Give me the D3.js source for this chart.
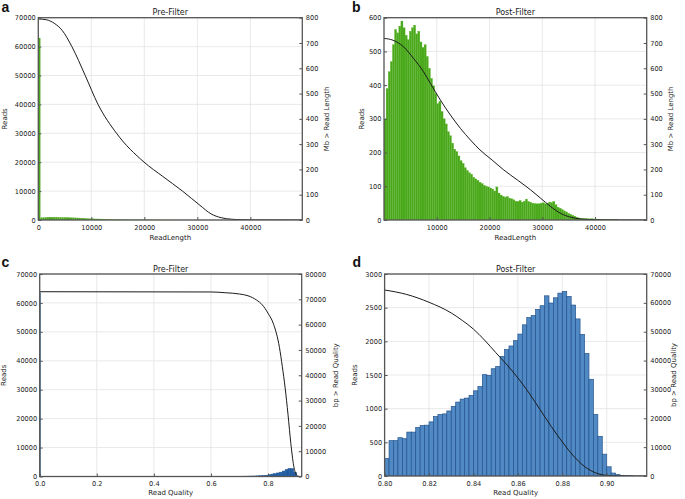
<!DOCTYPE html>
<html><head><meta charset="utf-8">
<script src="https://cdn.jsdelivr.net/npm/d3@7"></script>
<style>
body{margin:0;background:#fff;}
svg{display:block;}
.tick text{font-family:"DejaVu Sans",sans-serif;font-size:6.6px;fill:#222;}
.lbl{font-family:"DejaVu Sans",sans-serif;font-size:7px;fill:#222;}
.ttl{font-family:"DejaVu Sans",sans-serif;font-size:8px;fill:#222;}
.let{font-family:"Liberation Sans",Arial,sans-serif;font-size:14px;font-weight:bold;fill:#111;}
</style></head><body>
<svg id="chart" width="685" height="499"></svg>
<script>
// ---------- DATA ----------
// Read length histograms: bins of 400 bp starting at 0
const lenBinWidth = 400;
const preLenReads = [63000, 850, 900, 950, 980, 1000, 990, 1000, 1010, 980, 950, 930, 940, 920, 900, 860, 840, 800, 760, 720,
  670, 620, 580, 540, 500, 460, 450, 420, 390, 370, 340, 320, 295, 275, 262, 248, 230, 218, 205, 195,
  185, 178, 168, 160, 155, 148, 142, 136, 130, 126, 122, 118, 112, 120, 100, 92, 88, 85, 86, 80,
  78, 74, 70, 68, 70, 66, 68, 74, 66, 64, 60, 59, 58, 58, 60, 61, 58, 60, 63, 62,
  65, 54, 46, 42, 37, 32, 28, 24, 20, 17, 13, 10, 8, 6, 5, 5, 5, 4, 4, 4, 3, 3, 3, 2, 2, 2, 2, 1, 1, 1, 1];
const postLenReads = [300, 390, 440, 470, 520, 565, 555, 575, 590, 570, 548, 535, 560, 570, 578, 552, 560, 528, 512, 520,
  485, 450, 420, 398, 375, 345, 352, 322, 300, 285, 262, 250, 228, 210, 203, 190, 176, 168, 155, 147,
  140, 136, 127, 122, 118, 112, 108, 103, 100, 98, 95, 92, 86, 98, 80, 74, 70, 68, 70, 65,
  63, 60, 56, 55, 58, 53, 56, 62, 55, 53, 50, 49, 48, 48, 50, 51, 48, 50, 53, 52,
  55, 45, 38, 35, 31, 27, 24, 20, 17, 14, 11, 8, 6, 5, 4, 4, 4, 3, 4, 3,
  3, 2, 2, 2, 1, 1, 1, 1, 1, 1, 1];
// Cumulative Mb > read length (right axis)
const preMbX = [0, 1500, 3000, 4500, 6330, 8860, 11270, 14750, 19940, 23500, 27220, 30500, 32600, 34500, 36500, 38500, 41000, 49800];
const preMbY = [795, 792, 778, 750, 686, 571, 457, 343, 229, 172, 114, 58, 24, 9, 3, 1, 0.3, 0];
const postMbX = [0, 1700, 3700, 5600, 7500, 8800, 10700, 12600, 14500, 16400, 18200, 20500, 22700, 25300, 27800, 29700, 31600, 33500, 35400, 37300, 39800, 42400, 49800];
const postMbY = [718, 711, 685, 639, 586, 540, 474, 415, 362, 316, 277, 237, 198, 158, 119, 86, 53, 26, 11, 4, 1.3, 0.3, 0];

// Read quality histograms
const preQualZeroBin = 63500;      // reads in the [0, 0.002) bin
const preQualStart = 0.60, preQualStep = 0.01;
const preQualReads = [10, 15, 20, 25, 30, 35, 40, 50, 60, 70, 80, 95, 110, 130, 150, 180, 220, 270, 330, 420,
  600, 820, 1000, 1230, 1500, 1880, 2380, 2750, 2720, 1420, 50, 3];
const postQualStart = 0.80, postQualStep = 0.002;
const postQualReads = [260, 525, 525, 569, 554, 652, 652, 720, 750, 755, 804, 882, 912, 922, 966, 1034, 1098, 1142, 1157, 1196,
  1265, 1328, 1505, 1495, 1593, 1627, 1775, 1877, 1931, 2010, 2108, 2245, 2353, 2382, 2475, 2529, 2676, 2569, 2647, 2716,
  2740, 2667, 2539, 2333, 2103, 1819, 1436, 912, 588, 324, 137, 44, 20, 10, 4, 2];
// Cumulative bp > read quality (right axis)
const preBpX = [0, 0.6, 0.65, 0.7, 0.73, 0.76, 0.78, 0.8, 0.82, 0.84, 0.85, 0.86, 0.87, 0.88, 0.89, 0.9, 0.91, 0.918];
const preBpY = [73000, 72900, 72600, 72100, 71400, 69700, 67800, 64500, 60000, 51000, 43500, 35000, 24500, 13000, 4200, 600, 0, 0];
const postBpX = [0.80, 0.81, 0.82, 0.83, 0.835, 0.84, 0.845, 0.85, 0.855, 0.86, 0.865, 0.87, 0.875, 0.88, 0.885, 0.89, 0.895, 0.90, 0.905, 0.91, 0.918];
const postBpY = [64450, 62900, 60200, 56500, 53900, 50900, 47100, 42800, 38600, 34000, 28800, 23000, 17200, 11800, 7000, 3300, 1100, 200, 30, 0, 0];

// Ticks
const lenTicksA = [0, 10000, 20000, 30000, 40000];
const lenTicksB = [10000, 20000, 30000, 40000];
const readsTicksA = [0, 10000, 20000, 30000, 40000, 50000, 60000, 70000];
const readsTicksB = [0, 100, 200, 300, 400, 500, 600];
const mbTicks = [0, 100, 200, 300, 400, 500, 600, 700, 800];
const qualTicksC = [0, 0.2, 0.4, 0.6, 0.8];
const qualTicksD = [0.80, 0.82, 0.84, 0.86, 0.88, 0.90];
const readsTicksC = [0, 10000, 20000, 30000, 40000, 50000, 60000, 70000];
const bpTicksC = [0, 10000, 20000, 30000, 40000, 50000, 60000, 70000, 80000];
const readsTicksD = [0, 500, 1000, 1500, 2000, 2500, 3000];
const bpTicksD = [0, 10000, 20000, 30000, 40000, 50000, 60000, 70000];

// ---------- BUILD BINS ----------
const preLenBins = preLenReads.map((v, i) => ({x0: i * lenBinWidth, x1: (i + 1) * lenBinWidth, v}));
const postLenBins = postLenReads.map((v, i) => ({x0: i * lenBinWidth, x1: (i + 1) * lenBinWidth, v}));
const preQualBins = [{x0: 0, x1: 0.002, v: preQualZeroBin}].concat(
  preQualReads.map((v, i) => ({x0: preQualStart + i * preQualStep, x1: preQualStart + (i + 1) * preQualStep, v})));
const postQualBins = postQualReads.map((v, i) => ({x0: postQualStart + i * postQualStep, x1: postQualStart + (i + 1) * postQualStep, v}));

const svg = d3.select('#chart');
const defs = svg.append('defs');

function panel(c) {
  const g = svg.append('g');
  const x = d3.scaleLinear().domain(c.xDomain).range([c.x0, c.x1]);
  const yL = d3.scaleLinear().domain(c.yLDomain).range([c.y1, c.y0]);
  const yR = d3.scaleLinear().domain(c.yRDomain).range([c.y1, c.y0]);
  const cid = 'clip-' + c.id;
  defs.append('clipPath').attr('id', cid).append('rect')
    .attr('x', c.x0).attr('y', c.y0).attr('width', c.x1 - c.x0).attr('height', c.y1 - c.y0);

  // grid
  const grid = g.append('g').attr('stroke', '#e3e3e3').attr('stroke-width', 0.8);
  grid.selectAll('line.gx').data(c.xTicks).join('line').attr('class', 'gx')
    .attr('x1', d => x(d)).attr('x2', d => x(d)).attr('y1', c.y0).attr('y2', c.y1);
  grid.selectAll('line.gy').data(c.yLTicks).join('line').attr('class', 'gy')
    .attr('y1', d => yL(d)).attr('y2', d => yL(d)).attr('x1', c.x0).attr('x2', c.x1);

  // bars
  g.append('g').attr('clip-path', `url(#${cid})`)
    .selectAll('rect').data(c.bins).join('rect')
    .attr('x', d => x(d.x0)).attr('width', d => Math.max(0, x(d.x1) - x(d.x0)))
    .attr('y', d => yL(d.v)).attr('height', d => c.y1 - yL(d.v))
    .attr('fill', c.fill).attr('stroke', c.stroke || 'none').attr('stroke-width', c.strokeW || 0);

  // line
  const line = d3.line().x(d => x(d[0])).y(d => yR(d[1])).curve(d3.curveMonotoneX);
  g.append('path').attr('clip-path', `url(#${cid})`).datum(d3.zip(c.lineX, c.lineY))
    .attr('d', line).attr('fill', 'none').attr('stroke', '#1b1b1b').attr('stroke-width', 1);

  // frame
  g.append('rect').attr('x', c.x0).attr('y', c.y0).attr('width', c.x1 - c.x0).attr('height', c.y1 - c.y0)
    .attr('fill', 'none').attr('stroke', '#555').attr('stroke-width', 1.3);

  const style = s => { s.select('.domain').remove(); s.selectAll('.tick line').attr('stroke', '#555'); };
  g.append('g').attr('transform', `translate(0,${c.y1})`)
    .call(d3.axisBottom(x).tickValues(c.xTicks).tickFormat(c.xFmt).tickSizeInner(-3).tickSizeOuter(0).tickPadding(c.xPad))
    .call(style);
  g.append('g').attr('transform', `translate(${c.x0},0)`)
    .call(d3.axisLeft(yL).tickValues(c.yLTicks).tickFormat(d3.format('d')).tickSizeInner(-3).tickSizeOuter(0).tickPadding(2.5))
    .call(style);
  g.append('g').attr('transform', `translate(${c.x1},0)`)
    .call(d3.axisRight(yR).tickValues(c.yRTicks).tickFormat(d3.format('d')).tickSizeInner(-3).tickSizeOuter(0).tickPadding(3.5))
    .call(style);

  const cx = (c.x0 + c.x1) / 2, cy = (c.y0 + c.y1) / 2;
  g.append('text').attr('class', 'ttl').attr('x', cx).attr('y', c.titleY).attr('text-anchor', 'middle').text(c.title);
  g.append('text').attr('class', 'lbl').attr('x', cx).attr('y', c.xLabelY).attr('text-anchor', 'middle').text(c.xLabel);
  g.append('text').attr('class', 'lbl').attr('text-anchor', 'middle').attr('dominant-baseline', 'central')
    .attr('transform', `translate(${c.yLabelX},${cy}) rotate(-90)`).text('Reads');
  g.append('text').attr('class', 'lbl').attr('text-anchor', 'middle').attr('dominant-baseline', 'central')
    .attr('transform', `translate(${c.yRLabelX},${cy}) rotate(-90)`).text(c.yRLabel);
  g.append('text').attr('class', 'let').attr('x', c.letX).attr('y', c.letY).text(c.id);
}

const fmtInt = d3.format('d');
panel({id: 'a', x0: 38.3, x1: 302.3, y0: 17.7, y1: 220,
  xDomain: [0, 49800], yLDomain: [0, 70000], yRDomain: [0, 800],
  xTicks: lenTicksA, yLTicks: readsTicksA, yRTicks: mbTicks, xFmt: fmtInt, xPad: 5,
  bins: preLenBins, fill: '#4aa71c', lineX: preMbX, lineY: preMbY,
  title: 'Pre-Filter', titleY: 15, xLabel: 'ReadLength', xLabelY: 239.5, yLabelX: 4.5, yRLabelX: 327, yRLabel: 'Mb > Read Length',
  letX: 1.5, letY: 11.5});
panel({id: 'b', x0: 384, x1: 646.7, y0: 17.7, y1: 220,
  xDomain: [0, 49800], yLDomain: [0, 600], yRDomain: [0, 800],
  xTicks: lenTicksB, yLTicks: readsTicksB, yRTicks: mbTicks, xFmt: fmtInt, xPad: 5,
  bins: postLenBins, fill: '#4aa71c', stroke: '#5fbb2e', strokeW: 0.3, lineX: postMbX, lineY: postMbY,
  title: 'Post-Filter', titleY: 15, xLabel: 'ReadLength', xLabelY: 239.5, yLabelX: 361.5, yRLabelX: 671, yRLabel: 'Mb > Read Length',
  letX: 352, letY: 11.5});
panel({id: 'c', x0: 39.7, x1: 301.7, y0: 274, y1: 476.5,
  xDomain: [0, 0.918], yLDomain: [0, 70000], yRDomain: [0, 80000],
  xTicks: qualTicksC, yLTicks: readsTicksC, yRTicks: bpTicksC, xFmt: d3.format('.1f'), xPad: 4.5,
  bins: preQualBins, fill: '#2461a8', stroke: '#1b4f8e', strokeW: 0.5, lineX: preBpX, lineY: preBpY,
  title: 'Pre-Filter', titleY: 271.5, xLabel: 'Read Quality', xLabelY: 495, yLabelX: 4, yRLabelX: 336, yRLabel: 'bp > Read Quality',
  letX: 1.5, letY: 266.5});
panel({id: 'd', x0: 384.6, x1: 646.7, y0: 274, y1: 476,
  xDomain: [0.8, 0.918], yLDomain: [0, 3000], yRDomain: [0, 70000],
  xTicks: qualTicksD, yLTicks: readsTicksD, yRTicks: bpTicksD, xFmt: d3.format('.2f'), xPad: 5,
  bins: postQualBins, fill: '#5189c4', stroke: '#23538c', strokeW: 0.7, lineX: postBpX, lineY: postBpY,
  title: 'Post-Filter', titleY: 271.5, xLabel: 'Read Quality', xLabelY: 495, yLabelX: 355, yRLabelX: 674, yRLabel: 'bp > Read Quality',
  letX: 352.5, letY: 266.5});
</script>
</body></html>
